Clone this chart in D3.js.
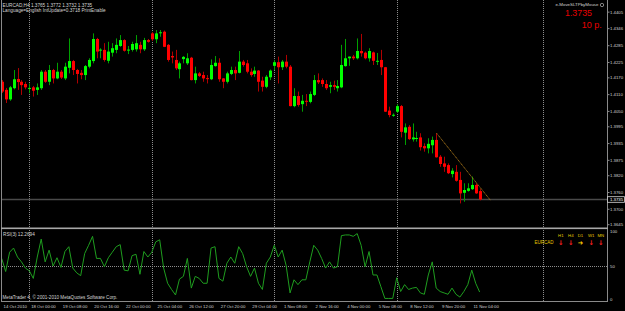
<!DOCTYPE html>
<html><head><meta charset="utf-8">
<script src="https://cdn.jsdelivr.net/npm/d3@7"></script>
<style>html,body{margin:0;padding:0;background:#000;overflow:hidden}svg{display:block}text{font-family:"Liberation Sans",Arial,sans-serif}</style>
</head><body><svg id="c" width="625" height="311"></svg>
<script>
// ---- data (EURCAD H4) ----
const opens  = [1.4156,1.4127,1.4093,1.4133,1.4166,1.4156,1.4148,1.4131,1.4136,1.4127,1.4133,1.4192,1.4156,1.4198,1.4168,1.4192,1.4168,1.4206,1.4230,1.4198,1.4188,1.4180,1.4210,1.4230,1.4309,1.4269,1.4270,1.4231,1.4260,1.4270,1.4284,1.4305,1.4269,1.4270,1.4272,1.4288,1.4272,1.4305,1.4329,1.4308,1.4330,1.4335,1.4288,1.4248,1.4234,1.4201,1.4237,1.4222,1.4242,1.4162,1.4186,1.4180,1.4169,1.4165,1.4212,1.4224,1.4168,1.4156,1.4184,1.4198,1.4188,1.4228,1.4222,1.4192,1.4184,1.4196,1.4160,1.4138,1.4172,1.4213,1.4226,1.4208,1.4228,1.4210,1.4069,1.4105,1.4076,1.4088,1.4084,1.4109,1.4162,1.4162,1.4148,1.4138,1.4144,1.4133,1.4136,1.4212,1.4240,1.4246,1.4240,1.4266,1.4260,1.4240,1.4261,1.4228,1.4234,1.4208,1.4053,1.4036,1.4049,1.4069,1.3974,1.3995,1.3950,1.3953,1.3957,1.3926,1.3918,1.3929,1.3948,1.3888,1.3864,1.3858,1.3826,1.3834,1.3805,1.3759,1.3766,1.3772,1.3787,1.3765];
const highs  = [1.4162,1.4134,1.4141,1.4198,1.4205,1.4162,1.4156,1.4150,1.4141,1.4150,1.4198,1.4198,1.4216,1.4202,1.4224,1.4198,1.4224,1.4311,1.4234,1.4202,1.4198,1.4216,1.4240,1.4329,1.4313,1.4276,1.4294,1.4299,1.4294,1.4311,1.4323,1.4308,1.4284,1.4299,1.4323,1.4299,1.4313,1.4309,1.4334,1.4341,1.4341,1.4339,1.4291,1.4264,1.4270,1.4228,1.4248,1.4258,1.4245,1.4210,1.4191,1.4192,1.4180,1.4236,1.4248,1.4240,1.4169,1.4192,1.4210,1.4210,1.4266,1.4234,1.4234,1.4204,1.4210,1.4198,1.4174,1.4180,1.4200,1.4234,1.4246,1.4234,1.4252,1.4216,1.4133,1.4121,1.4109,1.4112,1.4121,1.4180,1.4186,1.4168,1.4162,1.4156,1.4160,1.4162,1.4288,1.4309,1.4246,1.4252,1.4311,1.4327,1.4264,1.4276,1.4264,1.4259,1.4270,1.4209,1.4067,1.4043,1.4076,1.4073,1.4007,1.4001,1.4007,1.3977,1.3972,1.3936,1.3954,1.3960,1.3972,1.3894,1.3888,1.3864,1.3847,1.3858,1.3834,1.3793,1.3793,1.3817,1.3793,1.3772];
const lows   = [1.4116,1.4080,1.4088,1.4129,1.4127,1.4109,1.4129,1.4115,1.4103,1.4109,1.4127,1.4152,1.4144,1.4150,1.4165,1.4166,1.4162,1.4186,1.4180,1.4150,1.4165,1.4162,1.4204,1.4222,1.4240,1.4240,1.4228,1.4222,1.4246,1.4258,1.4281,1.4264,1.4255,1.4264,1.4264,1.4258,1.4266,1.4296,1.4302,1.4294,1.4317,1.4280,1.4228,1.4222,1.4198,1.4168,1.4222,1.4216,1.4161,1.4150,1.4173,1.4156,1.4150,1.4162,1.4210,1.4156,1.4133,1.4150,1.4180,1.4162,1.4186,1.4210,1.4186,1.4174,1.4174,1.4121,1.4121,1.4133,1.4162,1.4198,1.4150,1.4198,1.4204,1.4068,1.4065,1.4067,1.4049,1.4069,1.4079,1.4105,1.4148,1.4138,1.4127,1.4115,1.4127,1.4121,1.4133,1.4210,1.4213,1.4234,1.4236,1.4246,1.4236,1.4228,1.4216,1.4216,1.4180,1.4048,1.4029,1.4031,1.4045,1.3957,1.3930,1.3948,1.3942,1.3942,1.3910,1.3906,1.3900,1.3900,1.3885,1.3852,1.3834,1.3826,1.3814,1.3799,1.3721,1.3727,1.3763,1.3769,1.3755,1.3732];
const closes = [1.4121,1.4093,1.4136,1.4165,1.4155,1.4144,1.4136,1.4134,1.4124,1.4136,1.4192,1.4156,1.4198,1.4168,1.4192,1.4171,1.4210,1.4230,1.4198,1.4184,1.4180,1.4212,1.4234,1.4309,1.4264,1.4271,1.4234,1.4264,1.4276,1.4288,1.4305,1.4267,1.4271,1.4291,1.4294,1.4272,1.4305,1.4299,1.4308,1.4329,1.4333,1.4281,1.4234,1.4243,1.4204,1.4222,1.4245,1.4240,1.4162,1.4186,1.4177,1.4168,1.4166,1.4216,1.4224,1.4165,1.4156,1.4186,1.4198,1.4186,1.4228,1.4216,1.4192,1.4180,1.4196,1.4156,1.4138,1.4174,1.4196,1.4226,1.4208,1.4228,1.4210,1.4069,1.4105,1.4073,1.4088,1.4085,1.4112,1.4162,1.4154,1.4148,1.4133,1.4144,1.4138,1.4141,1.4216,1.4240,1.4246,1.4240,1.4266,1.4258,1.4240,1.4266,1.4231,1.4231,1.4208,1.4049,1.4037,1.4038,1.4069,1.3977,1.3993,1.3951,1.3957,1.3955,1.3922,1.3918,1.3934,1.3948,1.3886,1.3862,1.3852,1.3829,1.3838,1.3802,1.3757,1.3769,1.3775,1.3787,1.3757,1.3735];
const rsi3   = [61,42,70,76,63,56,47,43,32,63,89,56,73,50,62,48,71,78,47,40,36,68,80,93,61,61,49,62,70,78,81,44,43,65,67,38,71,63,70,85,88,47,25,16,8,31,35,61,18,35,32,25,25,76,78,32,28,54,63,54,78,68,49,35,47,25,16,54,63,80,63,73,51,11,30,23,30,30,56,80,73,61,47,56,47,49,94,95,95,93,97,80,49,71,37,37,20,3,3,3,33,13,23,16,18,19,11,9,37,56,18,13,11,9,18,9,5,13,23,44,25,12.2694];
const timeLabels    = ["14 Oct 2010","18 Oct 00:00","19 Oct 08:00","20 Oct 16:00","22 Oct 00:00","25 Oct 04:00","26 Oct 12:00","27 Oct 20:00","29 Oct 04:00","1 Nov 08:00","2 Nov 16:00","4 Nov 00:00","5 Nov 08:00","8 Nov 12:00","9 Nov 20:00","11 Nov 04:00"];
const timeLabelBars = [0,7,15,23,31,39,47,55,63,71,79,87,95,103,111,119];
const priceTicks = [1.4405,1.4346,1.4285,1.4225,1.4170,1.4110,1.4050,1.3995,1.3935,1.3875,1.3820,1.3760,1.3700,1.3645];
const rsiTicks = [100,50,0];
const bidPrice = 1.3735;
const trendBars = [110.1,123.8];
const trendPrices = [1.3972,1.3731];
const weekGridBars = [7,38,69,100,137];
const tfNames = ["H1","H4","D1","W1","MN"];
const tfDirs  = ["down","down","right","down","down"];

// ---- layout ----
const svg = d3.select("#c");
const W = 625, H = 311, axisX = 607, mainBottom = 228, rsiBottom = 301.5;
const x = d3.scaleLinear().domain([0, 121]).range([1.7, 479.65]);
const y = d3.scaleLinear().domain([1.36331, 1.44484]).range([mainBottom, 0]);
const yr = d3.scaleLinear().domain([0, 100]).range([300.5, 231.5]);
const light = "#d4d4d4";

svg.append("rect").attr("width", W).attr("height", H).attr("fill", "#000");

// vertical dotted grid
svg.append("g").selectAll("line").data(weekGridBars).join("line")
  .attr("x1", d => Math.round(x(d)) + 0.5).attr("x2", d => Math.round(x(d)) + 0.5)
  .attr("y1", 0).attr("y2", rsiBottom)
  .attr("stroke", "#8c8c8c").attr("stroke-width", 1).attr("stroke-dasharray", "1,1");

// RSI 50 dotted level
svg.append("line").attr("x1", 2).attr("x2", axisX).attr("y1", Math.round(yr(50)) + 0.5).attr("y2", Math.round(yr(50)) + 0.5)
  .attr("stroke", "#8c8c8c").attr("stroke-dasharray", "1,1");

// bid line
svg.append("line").attr("x1", 2).attr("x2", axisX).attr("y1", y(bidPrice)).attr("y2", y(bidPrice))
  .attr("stroke", "#4a4a4a").attr("stroke-width", 1.5);

// candles
const idx = d3.range(opens.length);
svg.append("clipPath").attr("id", "mainclip").append("rect").attr("x", 2).attr("y", 0).attr("width", axisX - 2).attr("height", mainBottom);
const cg = svg.append("g").attr("clip-path", "url(#mainclip)");
cg.selectAll("line.w").data(idx).join("line").attr("class", "w")
  .attr("x1", i => Math.round(x(i)) + 0.5).attr("x2", i => Math.round(x(i)) + 0.5)
  .attr("y1", i => y(highs[i])).attr("y2", i => y(lows[i]))
  .attr("stroke", i => closes[i] >= opens[i] ? "#00a000" : "#b00000").attr("stroke-width", 1);
cg.selectAll("rect.b").data(idx).join("rect").attr("class", "b")
  .attr("x", i => Math.round(x(i)) - 1).attr("width", 3)
  .attr("y", i => y(Math.max(opens[i], closes[i])))
  .attr("height", i => Math.max(1, Math.abs(y(opens[i]) - y(closes[i]))))
  .attr("fill", i => closes[i] >= opens[i] ? "#00ff00" : "#ff0000");

// trend line
svg.append("line")
  .attr("x1", x(trendBars[0])).attr("y1", y(trendPrices[0]))
  .attr("x2", x(trendBars[1])).attr("y2", y(trendPrices[1]))
  .attr("stroke", "#a8761a").attr("stroke-width", 1).attr("stroke-dasharray", "1.2,0.6");

// RSI line
svg.append("path").datum(idx)
  .attr("d", d3.line().x(i => x(i)).y(i => yr(rsi3[i])))
  .attr("fill", "none").attr("stroke", "#1f9d1f").attr("stroke-width", 1);

// frame
svg.append("line").attr("x1", 1.5).attr("x2", 1.5).attr("y1", 0).attr("y2", rsiBottom).attr("stroke", "#8a8a8a");
svg.append("line").attr("x1", axisX + 0.5).attr("x2", axisX + 0.5).attr("y1", 0).attr("y2", rsiBottom).attr("stroke", "#8a8a8a");
svg.append("rect").attr("x", 1).attr("y", mainBottom - 0.5).attr("width", axisX).attr("height", 1.6).attr("fill", "#a8a8a8");
svg.append("line").attr("x1", 1).attr("x2", axisX + 1).attr("y1", rsiBottom).attr("y2", rsiBottom).attr("stroke", "#8a8a8a");

// price axis
const pa = svg.append("g");
pa.selectAll("line").data(priceTicks).join("line")
  .attr("x1", axisX).attr("x2", axisX + 2.5).attr("y1", d => y(d)).attr("y2", d => y(d)).attr("stroke", "#8a8a8a");
pa.selectAll("text").data(priceTicks).join("text")
  .attr("x", 610).attr("y", d => y(d) + 1.5).attr("font-size", 4.3).attr("fill", light)
  .text(d => d.toFixed(4));
// bid label
svg.append("rect").attr("x", 607.5).attr("y", y(bidPrice) - 2.8).attr("width", 17).attr("height", 5.6)
  .attr("fill", "#000").attr("stroke", "#d8d8d8").attr("stroke-width", 0.8);
svg.append("text").attr("x", 610).attr("y", y(bidPrice) + 1.6).attr("font-size", 4.3).attr("fill", "#ffffff").text(bidPrice.toFixed(4));

// rsi axis
svg.append("g").selectAll("text").data(rsiTicks).join("text")
  .attr("x", 610).attr("y", d => Math.min(yr(d), 299) + 1.5).attr("font-size", 4.3).attr("fill", light).text(d => d);

// time axis
svg.append("g").selectAll("text").data(timeLabels).join("text")
  .attr("x", (d, k) => x(timeLabelBars[k]) + 1.8).attr("y", 307.5).attr("font-size", 4.3).attr("fill", light).text(d => d);

// header texts
svg.append("text").attr("x", 2.5).attr("y", 6.8).attr("font-size", 4.7).attr("fill", light)
  .text("EURCAD,H4  " + [opens[121], highs[121], lows[121], closes[121]].map(v => v.toFixed(4)).join(" "));
svg.append("text").attr("x", 2.5).attr("y", 11.8).attr("font-size", 4.7).attr("fill", light)
  .text("Language=English  IntUpdate=0.3718  PrintEnable");
svg.append("text").attr("x", 3).attr("y", 235.8).attr("font-size", 4.7).attr("fill", light)
  .text("RSI(3) " + rsi3[rsi3.length - 1].toFixed(4));
svg.append("text").attr("x", 2.5).attr("y", 299.3).attr("font-size", 4.6).attr("fill", light)
  .text("MetaTrader 4, © 2001-2010 MetaQuotes Software Corp.");

// e-MoveSLTPbyMouse block
svg.append("text").attr("x", 598.5).attr("y", 6.4).attr("text-anchor", "end").attr("font-size", 4.4).attr("fill", light).text("e-MoveSLTPbyMouse");
svg.append("circle").attr("cx", 602).attr("cy", 5).attr("r", 1.7).attr("fill", "none").attr("stroke", light).attr("stroke-width", 0.6);
svg.append("text").attr("x", 565).attr("y", 16.3).attr("font-size", 9.2).attr("fill", "#e80000")
  .attr("textLength", 27).attr("lengthAdjust", "spacingAndGlyphs").text(bidPrice.toFixed(4));
svg.append("text").attr("x", 581.7).attr("y", 28.3).attr("font-size", 9.8).attr("fill", "#e80000")
  .attr("textLength", 20).attr("lengthAdjust", "spacingAndGlyphs").text("10 p.");

// timeframe direction panel
const tfX = [560.8, 570.8, 580.5, 591.2, 600.8];
svg.append("text").attr("x", 553.5).attr("y", 244.3).attr("text-anchor", "end").attr("font-size", 4.5).attr("fill", "#e8c800").text("EURCAD");
const tf = svg.append("g");
tf.selectAll("text.n").data(tfNames).join("text").attr("class", "n")
  .attr("x", (d, k) => tfX[k]).attr("y", 237.3).attr("text-anchor", "middle").attr("font-size", 4.3).attr("fill", "#e8c800").text(d => d);
tf.selectAll("text.a").data(tfDirs).join("text").attr("class", "a")
  .attr("x", (d, k) => tfX[k]).attr("y", 245).attr("text-anchor", "middle").attr("font-size", 6.5).attr("font-weight", "bold")
  .style("font-family", "DejaVu Sans")
  .attr("fill", d => d === "down" ? "#ff2020" : "#ffd000").text(d => d === "down" ? "↓" : "➜");
</script>
</body></html>
